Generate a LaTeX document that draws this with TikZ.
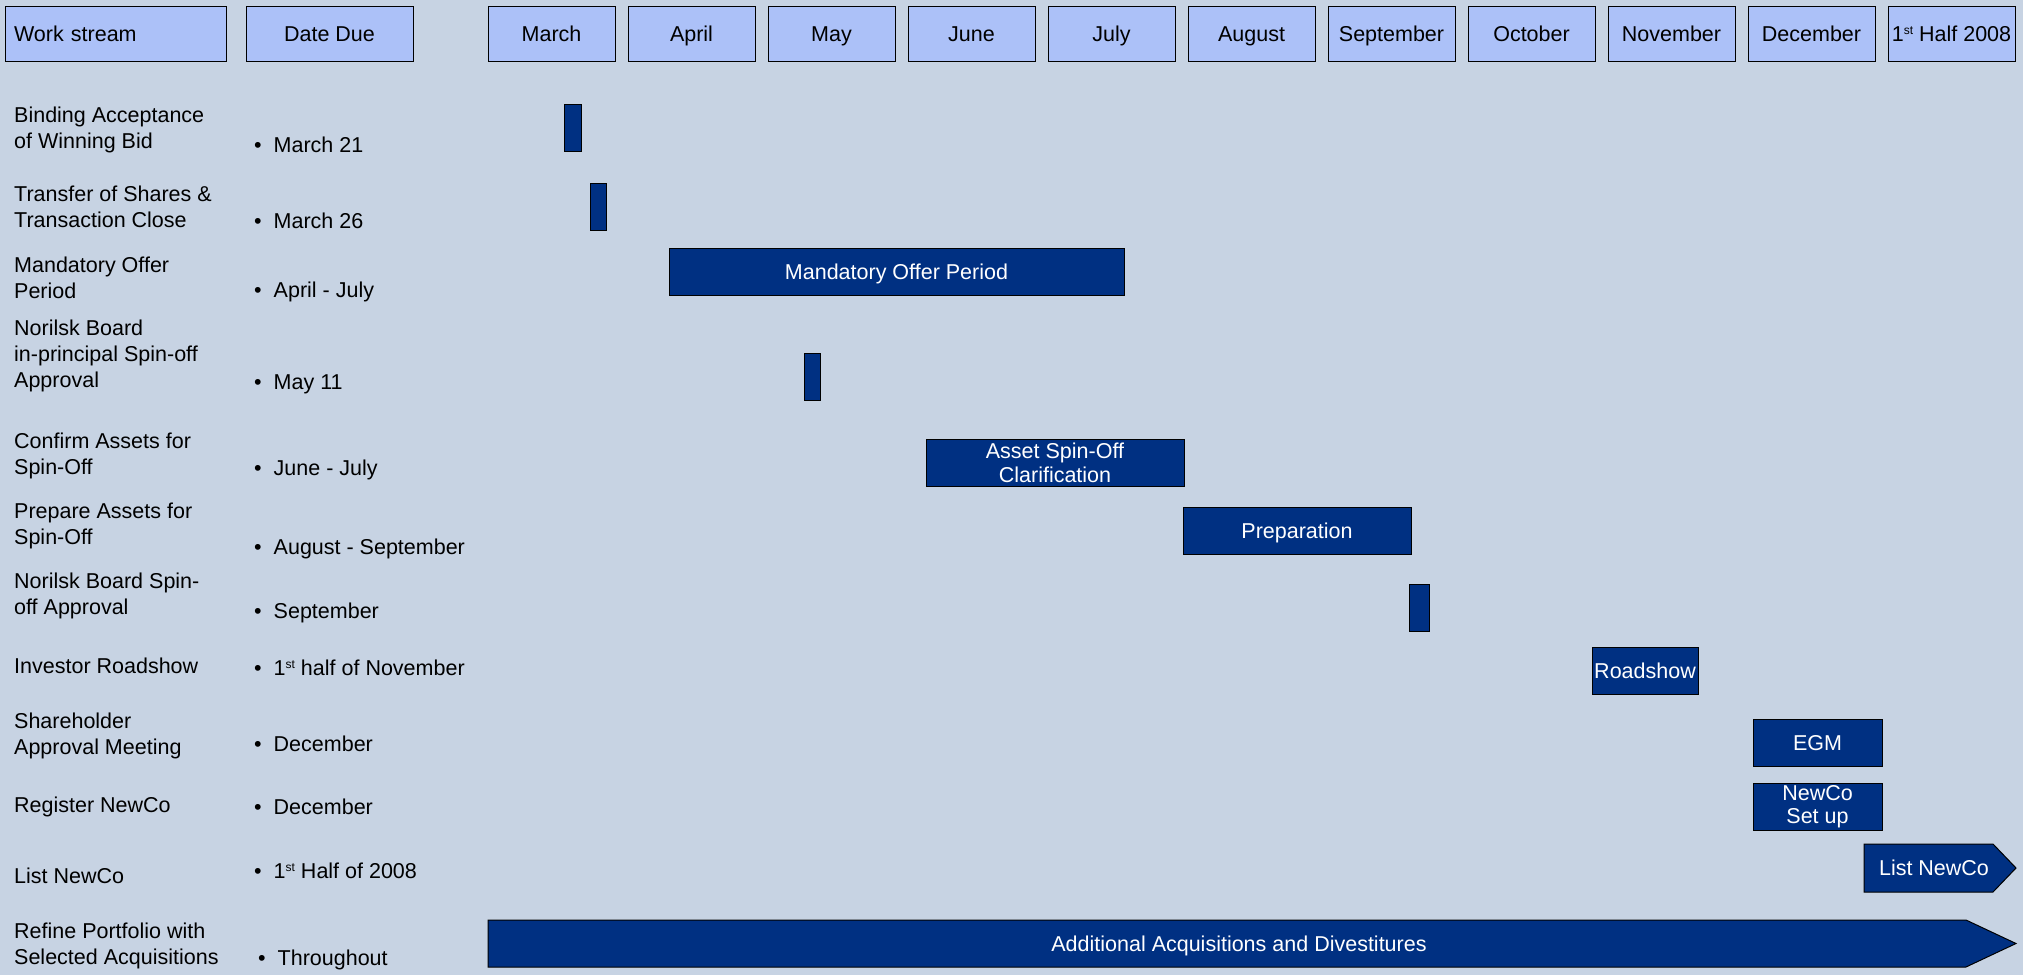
\documentclass[tikz,border=0pt]{standalone}
\usepackage{fontspec}
\setmainfont{Liberation Sans}
\usepackage{tikz}
\usetikzlibrary{positioning}

\definecolor{panel}{RGB}{199,211,227}
\definecolor{headfill}{RGB}{172,193,248}
\definecolor{navy}{RGB}{0,48,130}

\newcommand{\ordsup}[1]{\raisebox{7pt}{\fontsize{12}{12}\selectfont #1}}

\tikzset{
    oneline/.style={text height=20pt, text depth=4.6pt},
    headbox/.style={draw=black, line width=1pt, fill=headfill, minimum height=55pt, inner sep=0pt, oneline},
    barbox/.style={draw=black, line width=1pt, fill=navy, text=white, inner sep=0pt, minimum height=47pt, align=center},
    arrowbar/.style={draw=black, line width=1pt, fill=navy}
}

\begin{document}
\begin{tikzpicture}[x=1pt, y=-1pt, font=\fontsize{21.5}{26}\selectfont]
    \fill[panel] (0,0) rectangle (2023,975);
    \useasboundingbox (0,0) rectangle (2023,975);

    % header row
    \begin{scope}[every node/.style=headbox]
        \node[inner xsep=9pt, text width=203pt, align=left] (ws) at (115.5,33.5) {Work stream};
        \node[minimum width=167pt] (due) at (329.5,33.5) {Date Due};
        \foreach \m [count=\i from 0] in {March,April,May,June,July,August,September,October,November,December,1\ordsup{st} Half 2008}
            \node[minimum width=127pt] (m\i) at (551.5+140*\i,33.5) {\m};
    \end{scope}

    % work streams
    \begin{scope}[every node/.style={anchor=west, align=left, inner sep=0pt}]
        \node (l1) at (14,129.5) {Binding Acceptance\\of Winning Bid};
        \node (l2) at (14,207) {Transfer of Shares \&\\Transaction Close};
        \node (l3) at (14,277.5) {Mandatory Offer\\Period};
        \node (l4) at (14,355.8) {Norilsk Board\\in-principal Spin-off\\Approval};
        \node (l5) at (14,456.2) {Confirm Assets for\\Spin-Off};
        \node (l6) at (14,526.3) {Prepare Assets for\\Spin-Off};
        \node (l7) at (14,596.2) {Norilsk Board Spin-\\off Approval};
        \node (l8) at (14,665.8) {Investor Roadshow};
        \node (l9) at (14,736.2) {Shareholder\\Approval Meeting};
        \node (l10) at (14,806.5) {Register NewCo};
        \node (l11) at (14,875.8) {List NewCo};
        \node (l12) at (14,946.2) {Refine Portfolio with\\Selected Acquisitions};
    \end{scope}

    % due dates
    \begin{scope}[every node/.style={anchor=west, inner sep=0pt, oneline}]
        \node (d1) at (254,144.8) {\textbullet\hspace{12pt}March 21};
        \node (d2) at (254,220.5) {\textbullet\hspace{12pt}March 26};
        \node (d3) at (254,289.5) {\textbullet\hspace{12pt}April - July};
        \node (d4) at (254,382.2) {\textbullet\hspace{12pt}May 11};
        \node (d5) at (254,468.2) {\textbullet\hspace{12pt}June - July};
        \node (d6) at (254,547.2) {\textbullet\hspace{12pt}August - September};
        \node (d7) at (254,611.2) {\textbullet\hspace{12pt}September};
        \node (d8) at (254,668.2) {\textbullet\hspace{12pt}1\ordsup{st} half of November};
        \node (d9) at (254,743.8) {\textbullet\hspace{12pt}December};
        \node (d10) at (254,807.2) {\textbullet\hspace{12pt}December};
        \node (d11) at (254,871.2) {\textbullet\hspace{12pt}1\ordsup{st} Half of 2008};
        \node (d12) at (258,957.8) {\textbullet\hspace{12pt}Throughout};
    \end{scope}

    % timeline bars
    \begin{scope}[every node/.style=barbox]
        \node[minimum width=17pt] (bid) at (572.5,127.5) {};
        \node[minimum width=16pt] (close) at (598,207) {};
        \node[minimum width=455pt, oneline] (offer) at (896.5,272) {Mandatory Offer Period};
        \node[minimum width=16pt] (board1) at (812,376.5) {};
        \node[minimum width=258pt, font=\fontsize{21.5}{24}\selectfont] (clarify) at (1055,462.5) {Asset Spin-Off\\Clarification};
        \node[minimum width=228pt, oneline] (prep) at (1297,530.5) {Preparation};
        \node[minimum width=20pt] (board2) at (1419,608) {};
        \node[minimum width=106pt, oneline] (road) at (1645,670.5) {Roadshow};
        \node[minimum width=129pt, oneline] (egm) at (1817.5,743) {EGM};
        \node[minimum width=129pt, font=\fontsize{21.5}{23}\selectfont] (setup) at (1817.5,807) {NewCo\\Set up};
    \end{scope}

    \draw[arrowbar] (1864,844) -- (1993,844) -- (2016,868) -- (1993,892) -- (1864,892) -- cycle;
    \node[text=white, oneline] (list) at (1934,868) {List NewCo};
    \draw[arrowbar] (488,920) -- (1966,920) -- (2016,943.5) -- (1966,967) -- (488,967) -- cycle;
    \node[text=white, oneline] (acq) at (1239,943.5) {Additional Acquisitions and Divestitures};
\end{tikzpicture}
\end{document}
